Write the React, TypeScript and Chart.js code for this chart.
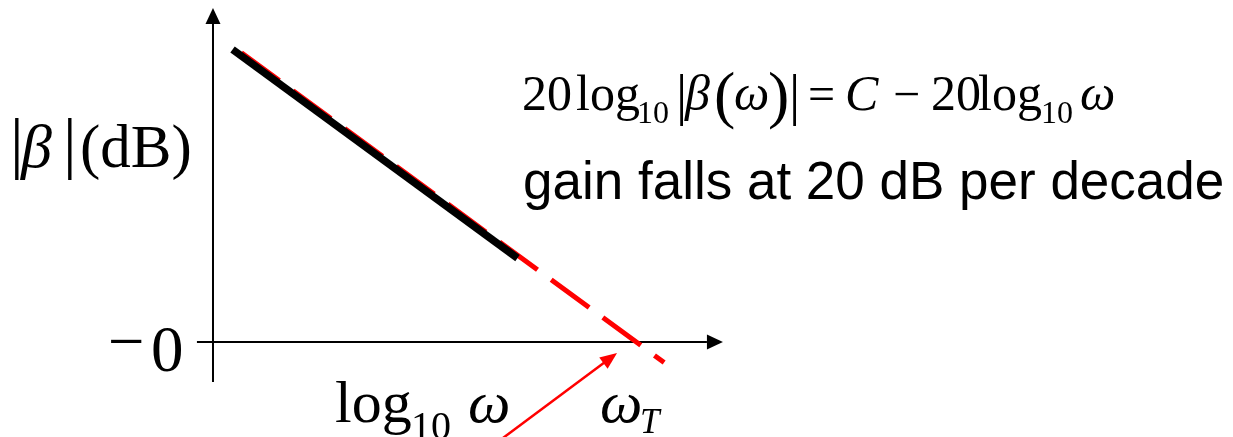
import { useEffect, useRef } from "react";
import { Chart, registerables } from "chart.js";

Chart.register(...registerables);

// Horizontal axis: log10(ω) in decades. Vertical axis: gain in dB.
// Asymptote 20log10|β(ω)| = C − 20log10 ω with C = 60 dB, so it meets 0 dB at ω_T (3 decades).
const asymptoteLogW = [0.14, 2.18];
const asymptoteGain = [57.2, 16.4];
const extensionLogW = [0.14, 3.23];
const extensionGain = [57.8, -4.0];

// Visible window of the plot, in the same units
const logWWindow = [-1.525, 7.303];
const gainWindow = [-18.57, 66.86];

// Extents of the drawn axes (with arrow tips)
const logWAxis = [-0.115, 3.651];
const gainAxis = [-7.8, 65.3];

// Red pointer towards the 0 dB crossing
const pointerFrom = [2.055, -19.2];
const pointerTo = [2.893, -2.15];

const SERIF = '"Liberation Serif", "Times New Roman", serif';
const SANS = '"Liberation Sans", Arial, sans-serif';

type Run = { text: string; size: number; x: number; y: number; italic?: boolean; family?: string };

const formulaRuns: Run[] = [
  { text: "20", size: 50, x: 522, y: 110 },
  { text: "log", size: 50, x: 576, y: 110 },
  { text: "10", size: 32, x: 637, y: 123 },
  { text: "|", size: 56, x: 676, y: 114 },
  { text: "β", size: 50, x: 685, y: 110, italic: true },
  { text: "(", size: 64, x: 714, y: 116 },
  { text: "ω", size: 50, x: 734, y: 110, italic: true },
  { text: ")", size: 64, x: 768, y: 116 },
  { text: "|", size: 56, x: 789, y: 114 },
  { text: "=", size: 48, x: 808, y: 110 },
  { text: "C", size: 50, x: 845, y: 110, italic: true },
  { text: "−", size: 48, x: 893, y: 110 },
  { text: "20", size: 50, x: 931, y: 110 },
  { text: "log", size: 50, x: 978, y: 110 },
  { text: "10", size: 32, x: 1041, y: 123 },
  { text: "ω", size: 50, x: 1080, y: 110, italic: true },
];

const labelRuns: Run[] = [
  // |β|(dB)
  { text: "|", size: 68, x: 10, y: 166 },
  { text: "β", size: 62, x: 21, y: 167, italic: true },
  { text: "|", size: 68, x: 63, y: 166 },
  { text: "(dB)", size: 61, x: 80, y: 167 },
  // −0
  { text: "−", size: 65, x: 108, y: 363 },
  { text: "0", size: 65, x: 151, y: 371 },
  // log10 ω
  { text: "log", size: 60, x: 335, y: 422 },
  { text: "10", size: 40, x: 411, y: 439 },
  { text: "ω", size: 60, x: 468, y: 422, italic: true },
  // ω_T
  { text: "ω", size: 60, x: 600, y: 422, italic: true },
  { text: "T", size: 35, x: 640, y: 433, italic: true },
  // caption
  { text: "gain falls at 20 dB per decade", size: 53, x: 523, y: 199, family: SANS },
];

function arrowHead(
  ctx: CanvasRenderingContext2D,
  fx: number, fy: number, tx: number, ty: number,
  len: number, half: number
) {
  const a = Math.atan2(ty - fy, tx - fx);
  const bx = tx - len * Math.cos(a);
  const by = ty - len * Math.sin(a);
  ctx.beginPath();
  ctx.moveTo(tx, ty);
  ctx.lineTo(bx + half * Math.sin(a), by - half * Math.cos(a));
  ctx.lineTo(bx - half * Math.sin(a), by + half * Math.cos(a));
  ctx.closePath();
  ctx.fill();
}

const axesPlugin = {
  id: "bodeAxes",
  beforeDatasetsDraw(chart: Chart) {
    const { ctx } = chart;
    const xs = chart.scales.x;
    const ys = chart.scales.y;
    const x0 = xs.getPixelForValue(0);
    const y0 = ys.getPixelForValue(0);
    const yBot = ys.getPixelForValue(gainAxis[0]);
    const yTop = ys.getPixelForValue(gainAxis[1]);
    const xLeft = xs.getPixelForValue(logWAxis[0]);
    const xRight = xs.getPixelForValue(logWAxis[1]);
    const head = 16;
    ctx.save();
    ctx.strokeStyle = "#000";
    ctx.fillStyle = "#000";
    ctx.lineWidth = 2;
    ctx.beginPath();
    ctx.moveTo(x0, yBot);
    ctx.lineTo(x0, yTop + head);
    ctx.moveTo(xLeft, y0);
    ctx.lineTo(xRight - head, y0);
    ctx.stroke();
    arrowHead(ctx, x0, yBot, x0, yTop, head, 7.5);
    arrowHead(ctx, xLeft, y0, xRight, y0, head, 7.5);
    ctx.restore();
  },
  afterDatasetsDraw(chart: Chart) {
    const { ctx } = chart;
    const xs = chart.scales.x;
    const ys = chart.scales.y;
    const fx = xs.getPixelForValue(pointerFrom[0]);
    const fy = ys.getPixelForValue(pointerFrom[1]);
    const tx = xs.getPixelForValue(pointerTo[0]);
    const ty = ys.getPixelForValue(pointerTo[1]);
    const head = 17;
    const a = Math.atan2(ty - fy, tx - fx);
    ctx.save();
    ctx.strokeStyle = "#ff0000";
    ctx.fillStyle = "#ff0000";
    ctx.lineWidth = 2.5;
    ctx.beginPath();
    ctx.moveTo(fx, fy);
    ctx.lineTo(tx - (head - 2) * Math.cos(a), ty - (head - 2) * Math.sin(a));
    ctx.stroke();
    arrowHead(ctx, fx, fy, tx, ty, head, 7);
    ctx.restore();
  },
  afterDraw(chart: Chart) {
    const { ctx } = chart;
    ctx.save();
    ctx.fillStyle = "#000";
    ctx.textBaseline = "alphabetic";
    ctx.textAlign = "left";
    for (const r of [...formulaRuns, ...labelRuns]) {
      ctx.font = `${r.italic ? "italic " : ""}${r.size}px ${r.family ?? SERIF}`;
      ctx.fillText(r.text, r.x, r.y);
    }
    ctx.restore();
  },
};

export default function App() {
  const canvasRef = useRef<HTMLCanvasElement | null>(null);

  useEffect(() => {
    const canvas = canvasRef.current;
    if (!canvas) return;
    const chart = new Chart(canvas, {
      type: "line",
      data: {
        datasets: [
          {
            label: "asymptote",
            data: asymptoteLogW.map((v, i) => ({ x: v, y: asymptoteGain[i] })),
            borderColor: "#000000",
            borderWidth: 7.5,
            borderCapStyle: "butt",
            pointRadius: 0,
            tension: 0,
          },
          {
            label: "extension",
            data: extensionLogW.map((v, i) => ({ x: v, y: extensionGain[i] })),
            borderColor: "#ff0000",
            borderWidth: 5,
            borderDash: [47, 17],
            borderDashOffset: 53,
            borderCapStyle: "butt",
            pointRadius: 0,
            tension: 0,
          },
        ],
      },
      options: {
        animation: false,
        responsive: false,
        devicePixelRatio: 1,
        events: [],
        layout: { padding: 0 },
        plugins: {
          legend: { display: false },
          tooltip: { enabled: false },
        },
        scales: {
          x: { type: "linear", display: false, min: logWWindow[0], max: logWWindow[1] },
          y: { type: "linear", display: false, min: gainWindow[0], max: gainWindow[1] },
        },
      },
      plugins: [axesPlugin],
    });
    return () => chart.destroy();
  }, []);

  return (
    <div style={{ position: "fixed", left: 0, top: 0, width: 1233, height: 437, background: "#fff" }}>
      <canvas ref={canvasRef} width={1233} height={437} style={{ display: "block" }} />
    </div>
  );
}
